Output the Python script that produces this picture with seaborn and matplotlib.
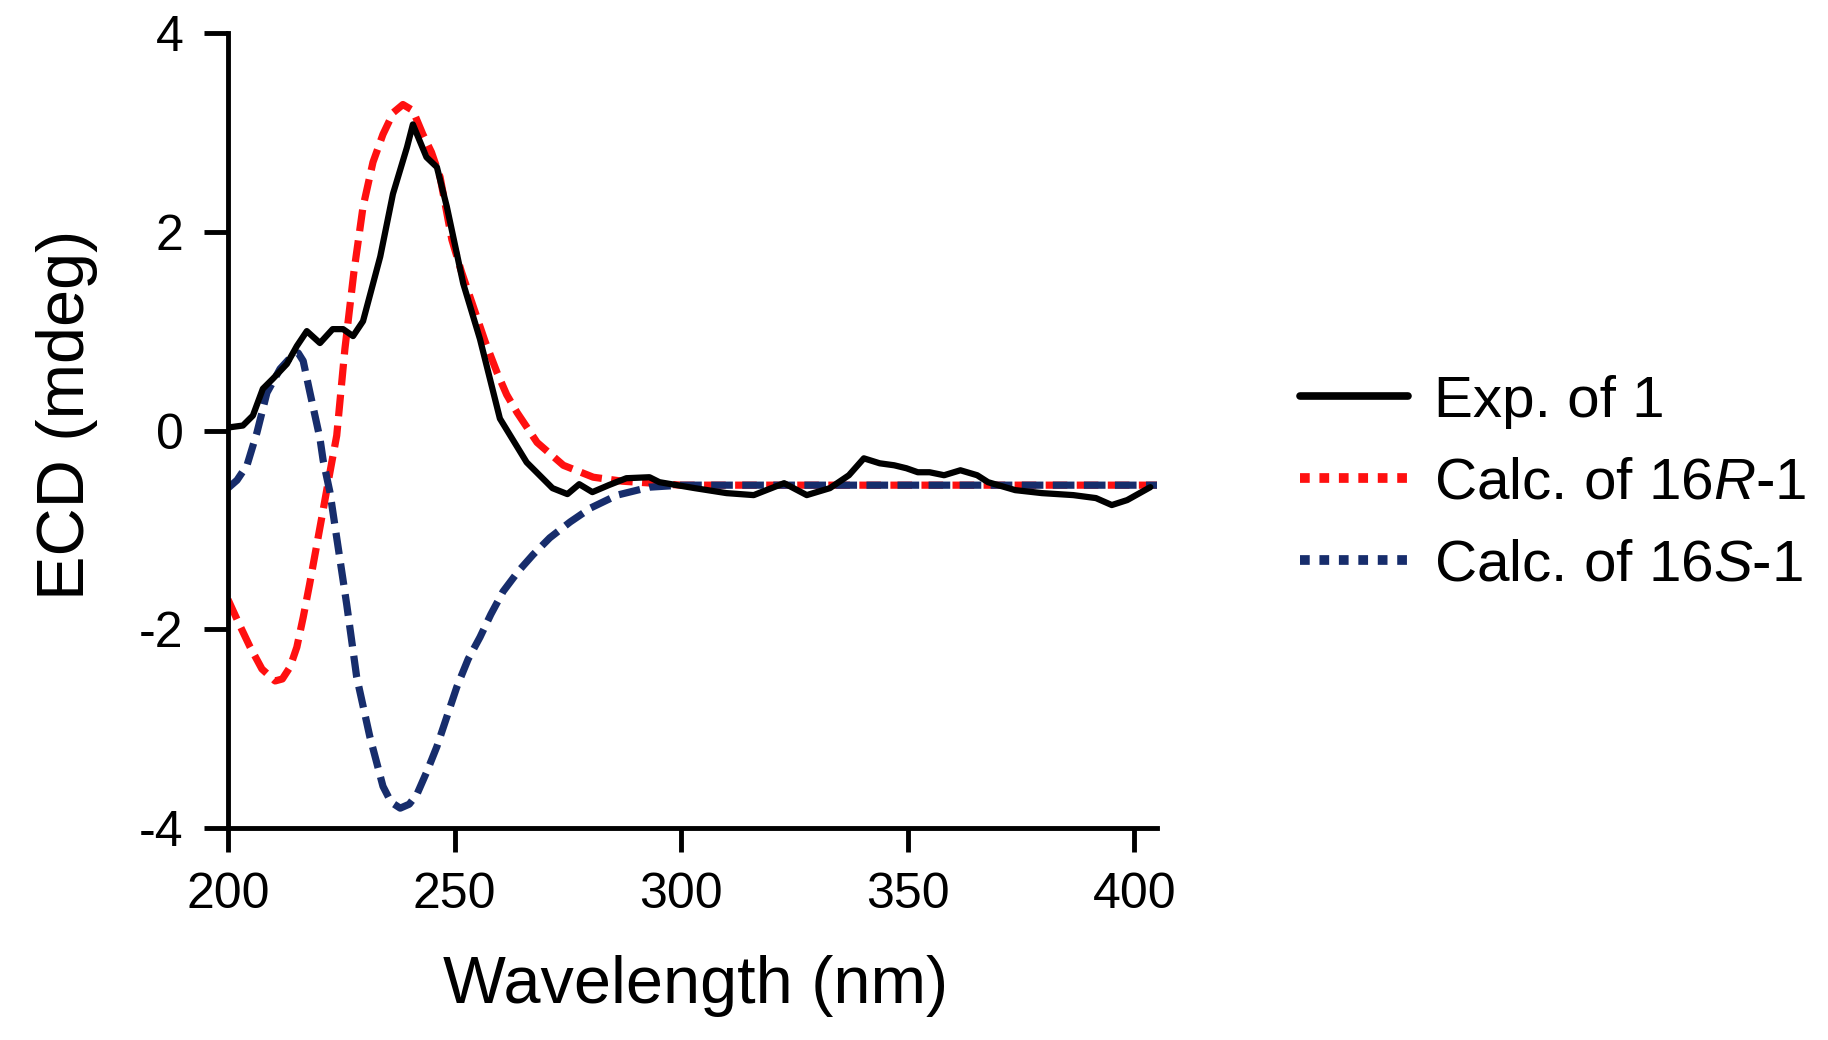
import numpy as np
import pandas as pd
import seaborn as sns
import matplotlib.pyplot as plt
from matplotlib.lines import Line2D

exp_nm = [200, 203.3, 205.5, 207.7, 209.9, 213, 215.2, 217.4, 220.3, 223.1, 225.4, 227.6,
          229.8, 233.6, 236.4, 239.5, 240.8, 243.8, 246.1, 248.3, 251.9, 255.6, 260,
          265.9, 271.6, 274.9, 277.5, 280.4, 284, 287.9, 293, 295.2, 303, 310, 316,
          322.7, 327.7, 332.8, 337, 340.3, 343.8, 347, 349.7, 352.2, 354.8, 358, 361.6,
          365.3, 367.7, 373.7, 379.6, 386.5, 391.5, 395, 398.4, 403.5]
exp_cd = [0.03, 0.05, 0.15, 0.42, 0.52, 0.67, 0.85, 1.0, 0.88, 1.02, 1.02, 0.95,
          1.1, 1.75, 2.38, 2.85, 3.08, 2.75, 2.65, 2.25, 1.48, 0.92, 0.12,
          -0.32, -0.58, -0.64, -0.54, -0.62, -0.55, -0.48, -0.47, -0.52, -0.58, -0.63, -0.65,
          -0.53, -0.65, -0.58, -0.45, -0.28, -0.33, -0.35, -0.38, -0.42, -0.42, -0.45, -0.4,
          -0.45, -0.52, -0.6, -0.63, -0.65, -0.68, -0.75, -0.7, -0.57]

# Calculated ECD of 16R-1
r_nm = [200, 202.5, 204.9, 207.5, 210.4, 212, 213.7, 215.2, 216.6, 218, 219.6, 221,
        222.5, 224, 225.8, 227.8, 229.8, 232, 234.2, 236.5, 238.6, 240.8, 243,
        244.9, 246.8, 249.4, 251.5, 254.1, 256.7, 259.4, 261.5, 263.8, 268.2,
        274, 280.6, 287, 293.8, 300, 320, 360, 405]
r_cd = [-1.7, -1.95, -2.18, -2.4, -2.52, -2.5, -2.38, -2.18, -1.88, -1.55, -1.15, -0.8,
        -0.42, -0.05, 0.82, 1.6, 2.25, 2.7, 2.98, 3.2, 3.28, 3.22, 2.98,
        2.8, 2.55, 1.92, 1.6, 1.25, 0.9, 0.58, 0.36, 0.18, -0.12,
        -0.35, -0.47, -0.51, -0.53, -0.55, -0.55, -0.55, -0.55]

# Calculated ECD of 16S-1
s_nm = [200, 202, 204.2, 206.4, 208.6, 211.5, 214.3, 215.5, 216.6, 218.1, 220.3, 221,
        222.5, 224, 226.2, 228.4, 231.3, 234.2, 236, 238, 240, 241.7, 244, 246.1,
        248.3, 250.5, 253, 255.6, 258, 260.7, 264, 267.3, 271, 275.5, 280,
        285.9, 293, 300, 320, 360, 405]
s_cd = [-0.58, -0.5, -0.35, -0.02, 0.38, 0.62, 0.76, 0.78, 0.7, 0.38, -0.08, -0.3,
        -0.62, -1.08, -1.75, -2.48, -3.08, -3.58, -3.74, -3.8, -3.76, -3.66, -3.42, -3.18,
        -2.88, -2.58, -2.3, -2.08, -1.85, -1.62, -1.42, -1.25, -1.08, -0.92, -0.78,
        -0.65, -0.57, -0.55, -0.55, -0.55, -0.55]

labels = ['Exp. of 1', r'Calc. of 16$\mathit{R}$-1', r'Calc. of 16$\mathit{S}$-1']
red = '#ff1010'
navy = '#172d6c'

sns.set_style('ticks')
plt.rcParams['font.family'] = ['Liberation Sans', 'DejaVu Sans']
plt.rcParams['mathtext.fontset'] = 'custom'
plt.rcParams['mathtext.rm'] = 'Liberation Sans'
plt.rcParams['mathtext.it'] = 'Liberation Sans:italic'
plt.rcParams['axes.unicode_minus'] = False
plt.rcParams['text.color'] = 'black'
plt.rcParams['axes.labelcolor'] = 'black'

fig = plt.figure(figsize=(18.28, 10.4), dpi=100)
ax = fig.add_axes([0.1247, 0.2038, 0.5083, 0.7645])

sns.lineplot(x=r_nm, y=r_cd, ax=ax, color=red, linewidth=5.2,
             linestyle=(0, (3.0, 1.3)), sort=False)
sns.lineplot(x=s_nm, y=s_cd, ax=ax, color=navy, linewidth=5.2,
             linestyle=(0, (3.0, 1.3)), sort=False)
sns.lineplot(x=exp_nm, y=exp_cd, ax=ax, color='black', linewidth=4.5, sort=False)

ax.set_xlim(200, 405)
ax.set_ylim(-4, 4)
ax.set_xticks([200, 250, 300, 350, 400])
ax.set_yticks([-4, -2, 0, 2, 4])
sns.despine(ax=ax)
for s in ['left', 'bottom']:
    ax.spines[s].set_linewidth(3.5)
    ax.spines[s].set_color('black')
ax.tick_params(width=3.5, length=17, labelsize=36, pad=15, colors='black')

ax.set_xlabel('Wavelength (nm)', fontsize=48)
ax.set_ylabel('ECD (mdeg)', fontsize=48)
ax.xaxis.set_label_coords(0.503, -0.16)
ax.yaxis.set_label_coords(-0.14, 0.52)

handles = [Line2D([], [], color='black', linewidth=5.5),
           Line2D([], [], color=red, linewidth=7, linestyle=(0, (1, 1))),
           Line2D([], [], color=navy, linewidth=7, linestyle=(0, (1, 1)))]
fig.legend(handles, labels, loc='center left', bbox_to_anchor=(0.695, 0.535),
           frameon=False, borderpad=0, handlelength=1.85, handletextpad=0.45,
           labelspacing=0.48, fontsize=42)

fig.savefig('out.png', dpi=100)
